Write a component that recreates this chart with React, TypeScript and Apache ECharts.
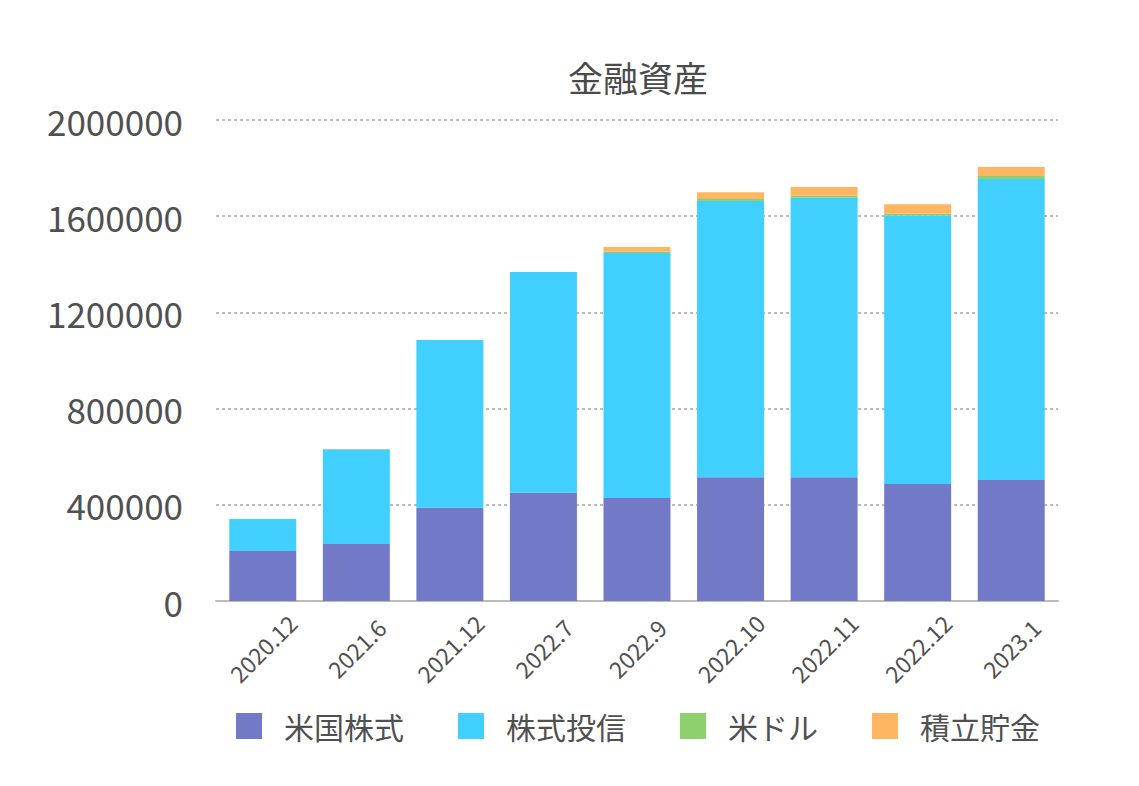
import React, { useEffect, useRef } from "react";
import * as echarts from "echarts";

const categories = ["2020.12", "2021.6", "2021.12", "2022.7", "2022.9", "2022.10", "2022.11", "2022.12", "2023.1"];
const usStocks = [208000, 237000, 388000, 450000, 428000, 515000, 515000, 486000, 503000];
const funds = [133000, 393000, 697000, 918000, 1019000, 1148000, 1162000, 1116000, 1252000];
const usDollar = [0, 2000, 0, 0, 5000, 8000, 8000, 8000, 12000];
const savings = [0, 0, 0, 0, 20000, 29000, 36000, 40000, 38000];

const seriesNames = ["米国株式", "株式投信", "米ドル", "積立貯金"];
const seriesColors = ["#727AC8", "#40CFFF", "#8ED06E", "#FFB662"];
const titleText = "金融資産";

const FONT = "'Noto Sans CJK JP', 'Noto Sans', sans-serif";

export default function App() {
  const ref = useRef<HTMLDivElement>(null);

  useEffect(() => {
    if (!ref.current) return;
    const chart = echarts.init(ref.current, undefined, { renderer: "svg" });
    const dataSets = [usStocks, funds, usDollar, savings];
    chart.setOption({
      animation: false,
      textStyle: { fontFamily: FONT },
      title: {
        text: titleText,
        left: 633,
        top: 54,
        textAlign: "center",
        textStyle: { fontSize: 35, fontWeight: "normal", color: "#4a4a4a", fontFamily: FONT },
      },
      legend: {
        data: seriesNames,
        left: 236,
        top: 711,
        padding: 0,
        icon: "rect",
        itemWidth: 26,
        itemHeight: 26,
        itemGap: 54,
        textStyle: { fontSize: 30, color: "#505050", fontFamily: FONT, padding: [0, 0, 4, 17] },
      },
      grid: { left: 216, right: 81, top: 120, bottom: 185, containLabel: false },
      xAxis: {
        type: "category",
        data: categories,
        axisTick: { show: false },
        axisLine: { show: true, lineStyle: { color: "#bbbbbb", width: 2 } },
        axisLabel: {
          interval: 0,
          rotate: 45,
          align: "center",
          verticalAlign: "middle",
          margin: 47,
          fontSize: 23,
          color: "#505050",
          fontFamily: FONT,
        },
      },
      yAxis: {
        type: "value",
        min: 0,
        max: 2000000,
        interval: 400000,
        axisLine: { show: false },
        axisTick: { show: false },
        axisLabel: {
          fontSize: 35,
          color: "#505050",
          margin: 33,
          padding: [0, 0, 8, 0],
          fontFamily: FONT,
          formatter: (v: number) => String(v),
        },
        splitLine: { show: true, lineStyle: { color: "#bbbbbb", width: 2, type: [3, 3] } },
      },
      series: seriesNames.map((name, i) => ({
        name,
        type: "bar",
        stack: "total",
        barWidth: 67,
        data: dataSets[i],
        itemStyle: { color: seriesColors[i] },
      })),
    });
    return () => chart.dispose();
  }, []);

  return (
    <div
      ref={ref}
      style={{ position: "absolute", left: 0, top: 0, width: 1139, height: 786, background: "#fff" }}
    />
  );
}
